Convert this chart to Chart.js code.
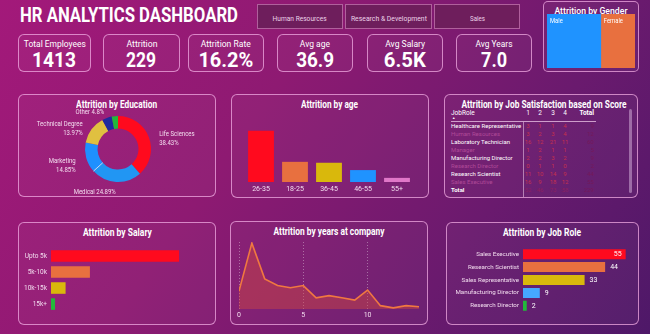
<!DOCTYPE html>
<html><head><meta charset="utf-8">
<script src="https://cdn.jsdelivr.net/npm/chart.js@4.4.1/dist/chart.umd.min.js"></script>
<style>
html,body{margin:0;padding:0;width:650px;height:334px;overflow:hidden}
body{position:relative;background:linear-gradient(125deg,#a3197a 0%,#8e1a72 38%,#6a1a6e 72%,#4e1868 100%);font-family:Roboto,"Liberation Sans",sans-serif;color:#fff}
.box{position:absolute;box-sizing:border-box;border:1px solid rgba(240,170,225,0.75);border-radius:6px;background:rgba(255,255,255,0.03)}
.line{position:absolute;left:0;right:0;text-align:center;white-space:nowrap}
.abs{position:absolute;white-space:nowrap}
.btn{position:absolute;box-sizing:border-box;top:4px;height:25px;background:#6e1e5c;border:1px solid #b0609c}
.chart{position:absolute}
</style></head>
<body>
<div id="root"></div>
<script>
// ---------- data ----------
const dashTitle = 'HR ANALYTICS DASHBOARD';
const deptButtons = ['Human Resources', 'Research & Development', 'Sales'];
const kpiLabels = ['Total Employees', 'Attrition', 'Attrition Rate', 'Avg age', 'Avg Salary', 'Avg Years'];
const kpiValues = ['1413', '229', '16.2%', '36.9', '6.5K', '7.0'];
const genderLabels = ['Male', 'Female'];
const genderValues = [140, 89];
const eduLabels = ['Life Sciences', 'Medical', 'Marketing', 'Technical Degree', 'Other', 'Human Resources'];
const eduPct = [38.43, 24.89, 14.85, 13.97, 4.8, 3.06];
const ageLabels = ['26-35', '18-25', '36-45', '46-55', '55+'];
const ageValues = [112, 44, 42, 26, 9];
const satRoles = ['Healthcare Representative', 'Human Resources', 'Laboratory Technician', 'Manager', 'Manufacturing Director', 'Research Director', 'Research Scientist', 'Sales Executive'];
const satScores = ['1', '2', '3', '4'];
const satValues = [[3,1,1,4],[3,2,3,4],[16,12,21,11],[1,2,1,1],[2,2,3,2],[0,1,1,0],[11,10,14,9],[16,9,18,12]];
const satTotals = [9, 12, 60, 5, 9, 2, 44, 55];
const satColumnTotals = [52, 46, 73, 58, 229];
const salaryLabels = ['Upto 5k', '5k-10k', '10k-15k', '15k+'];
const salaryValues = [158, 48, 18, 5];
const yearsAtCompany = [0,1,2,3,4,5,6,7,8,9,10,11,12,13,14];
const yearsAttrition = [16,59,27,21,19,21,10,12,10,8,17,3,1,3,2];
const roleLabels = ['Sales Executive', 'Research Scientist', 'Sales Representative', 'Manufacturing Director', 'Research Director'];
const roleValues = [55, 44, 33, 9, 2];
const panelTitles = ['Attrition by Education','Attrition by age','Attrition by Job Satisfaction based on Score','Attrition by Salary','Attrition by years at company','Attrition by Job Role'];
const genderTitle = 'Attrition by Gender';

// ---------- layout / styles ----------
const FONT = 'Roboto,"Liberation Sans",sans-serif';
const TXT = '#f3dcef';
const RED='#ff0a1e', ORANGE='#e8703f', YELLOW='#d9b80c', BLUE='#1f93ff', LBLUE='#45a8ff', GREEN='#22b83a', PINK='#e077c8', DBLUE='#1f2a9e';
Chart.defaults.font.family = FONT;
Chart.defaults.color = TXT;
Chart.defaults.animation = false;
Chart.defaults.maintainAspectRatio = false;
Chart.defaults.plugins.legend.display = false;
Chart.defaults.plugins.tooltip.enabled = false;

const root = document.getElementById('root');
function el(cls, css, text, parent){const d=document.createElement('div'); if(cls) d.className=cls; d.style.cssText=css||''; if(text!==undefined) d.textContent=text; (parent||root).appendChild(d); return d;}
function fit(parent, text, css, targetW, origin){const s=document.createElement('span'); s.textContent=text; s.style.cssText='display:inline-block;white-space:nowrap;'+(css||''); parent.appendChild(s);
  const w=s.getBoundingClientRect().width; if(targetW && w>0){s.style.transform='scaleX('+(targetW/w).toFixed(3)+')'; s.style.transformOrigin=origin||'center';} return s;}
function canvasIn(css){const d=el('chart',css); const c=document.createElement('canvas'); d.appendChild(c); return c;}
function sText(ctx, t, x, y, sx, align){ctx.save(); ctx.translate(x,y); ctx.scale(sx,1); ctx.textAlign=align; ctx.fillText(t,0,0); ctx.restore();}

// title
const tdiv=el('abs','left:20px;top:2px;line-height:26px;');
fit(tdiv, dashTitle, 'font-size:20px;font-weight:bold;', 218, 'left');
// buttons
const btnPos=[[257,86],[345,87],[434,86]], btnW=[54,76,15];
deptButtons.forEach((t,i)=>{const b=el('btn',`left:${btnPos[i][0]}px;width:${btnPos[i][1]}px;`); const l=el('line','top:0;line-height:22px;',undefined,b); fit(l,t,'font-size:7px;color:#ecd2e8;',btnW[i]);});
// KPI cards
const kpiPos=[[18,73],[103,77],[188,76],[277,76],[367,76],[456,76]];
const kpiLW=[62,31,50,30,40,37], kpiVW=[44,30,55,38,42,26];
kpiLabels.forEach((t,i)=>{const b=el('box',`left:${kpiPos[i][0]}px;top:34px;width:${kpiPos[i][1]}px;height:38px;`);
  fit(el('line','top:0px;line-height:13px;',undefined,b),t,'font-size:9.5px;',kpiLW[i]);
  fit(el('line','top:12px;line-height:26px;',undefined,b),kpiValues[i],'font-size:21px;font-weight:bold;',kpiVW[i]);});
// gender box
const gb=el('box','left:543px;top:1px;width:96px;height:71px;border-radius:5px;');
fit(el('line','top:0px;line-height:13px;',undefined,gb), genderTitle, 'font-size:9.5px;font-weight:500;', 73);
// panels
const panels=[[18,94,198,103],[231,94,198,104],[444,94,194,104],[18,222,198,103],[230,221,198,104],[446,222,193,103]];
const ptW=[81,57,165,69,111,78];
panels.forEach((p,i)=>{const b=el('box',`left:${p[0]}px;top:${p[1]}px;width:${p[2]}px;height:${p[3]}px;`);
  fit(el('line','top:1px;line-height:13px;',undefined,b),panelTitles[i],'font-size:10px;font-weight:bold;',ptW[i]);});

// ---------- gender (stacked bar as treemap) ----------
const genderLblPlugin={id:'genderLbl',afterDatasetsDraw(chart){const ctx=chart.ctx;ctx.save();ctx.font='6.5px '+FONT;ctx.fillStyle='#fff';ctx.textBaseline='top';
 chart.data.datasets.forEach((ds,i)=>{const bar=chart.getDatasetMeta(i).data[0];const left=Math.min(bar.x,bar.base);sText(ctx,ds.label,left+3,bar.y-bar.height/2+4,0.9,'left');});ctx.restore();}};
new Chart(canvasIn('left:547px;top:14px;width:88px;height:54px;'),{type:'bar',
 data:{labels:['Gender'],datasets:genderLabels.map((l,i)=>({label:l,data:[genderValues[i]],backgroundColor:[BLUE,ORANGE][i],borderWidth:0}))},
 options:{indexAxis:'y',layout:{padding:0},datasets:{bar:{barPercentage:1,categoryPercentage:1}},
  scales:{x:{display:false,stacked:true,min:0,max:genderValues.reduce((a,b)=>a+b,0)},y:{display:false,stacked:true}}},plugins:[genderLblPlugin]});

// ---------- education doughnut ----------
const eduLblPlugin={id:'eduLbl',afterDatasetsDraw(chart){const ctx=chart.ctx;const meta=chart.getDatasetMeta(0);ctx.save();ctx.font='7.5px '+FONT;ctx.fillStyle=TXT;ctx.textBaseline='middle';
 meta.data.forEach((arc,i)=>{if(eduPct[i]<4) return;const p=arc.getProps(['x','y','startAngle','endAngle','outerRadius'],true);
  const a=(p.startAngle+p.endAngle)/2;const single=Math.abs(Math.sin(a))>0.9;const r=p.outerRadius+(single?8:11);
  const x=p.x+Math.cos(a)*r,y=p.y+Math.sin(a)*r+(single?2:1);const al=Math.cos(a)>=0?'left':'right';const pct=eduPct[i]+'%';
  if(single){sText(ctx,eduLabels[i]+' '+pct,x,y,0.8,al);}else{sText(ctx,eduLabels[i],x,y,0.8,al);sText(ctx,pct,x,y+9,0.8,al);}});
 // thin separator between the two blue segments
 const m=meta.data[1].getProps(['x','y','endAngle','outerRadius','innerRadius'],true);
 ctx.strokeStyle='rgba(255,255,255,0.9)';ctx.lineWidth=0.8;ctx.beginPath();
 ctx.moveTo(m.x+Math.cos(m.endAngle)*m.innerRadius,m.y+Math.sin(m.endAngle)*m.innerRadius);ctx.lineTo(m.x+Math.cos(m.endAngle)*m.outerRadius,m.y+Math.sin(m.endAngle)*m.outerRadius);ctx.stroke();
 ctx.restore();}};
new Chart(canvasIn('left:18px;top:106px;width:198px;height:90px;'),{type:'doughnut',
 data:{labels:eduLabels,datasets:[{data:eduPct,backgroundColor:[RED,'#2196f3','#1e90ff','#e0c040',DBLUE,GREEN],borderWidth:0}]},
 options:{cutout:'62%',layout:{padding:{left:67,right:65,top:10,bottom:14}}},plugins:[eduLblPlugin]});

// ---------- age bars ----------
new Chart(canvasIn('left:231px;top:106px;width:198px;height:90px;'),{type:'bar',
 data:{labels:ageLabels,datasets:[{data:ageValues,backgroundColor:[RED,ORANGE,YELLOW,BLUE,PINK],borderWidth:0,barPercentage:0.76,categoryPercentage:1}]},
 options:{layout:{padding:{left:13,right:15,top:21,bottom:0}},
  scales:{y:{display:false,min:0,max:120},x:{grid:{display:false,drawTicks:false},border:{display:false},ticks:{font:{size:7},color:TXT,padding:3},afterFit(s){s.height=14;}}}}});

// ---------- job satisfaction table ----------
const tb=el('abs','left:0;top:0;');
function txt(x,y,s,css){return el('abs',`left:${x}px;top:${y-5}px;line-height:10px;font-size:6px;${css||''}`,s,tb);}
txt(451,113,'JobRole','font-size:6.5px;color:#fff;');
txt(452,118,'▲','font-size:3.5px;color:#fff;');
const colX=[528,540,553,565];
satScores.forEach((s,j)=>txt(colX[j]-3,113,s,'font-size:6.5px;color:#fff;width:6px;text-align:center;'));
txt(571,113,'Total','font-size:6.5px;font-weight:bold;color:#fff;width:23px;text-align:right;');
el('abs','left:451px;top:121px;width:145px;height:1px;background:rgba(230,190,225,0.8);',undefined,tb);
el('abs','left:523px;top:122px;width:1px;height:75px;background:rgba(230,190,225,0.6);',undefined,tb);
el('abs','left:629px;top:109px;width:3px;height:84px;border-radius:2px;background:rgba(230,200,235,0.45);',undefined,tb);
satRoles.forEach((r,i)=>{const y=126+i*8;const dim=i%2===1;
 txt(451,y,r,`color:${dim?'#b04a98':'#fff'};`);
 satValues[i].forEach((v,j)=>txt(colX[j]-6,y,String(v),'width:12px;text-align:center;color:#c4304e;'));
 txt(571,y,String(satTotals[i]),'width:23px;text-align:right;color:#74185a;');});
txt(451,190,'Total','font-weight:bold;color:#fff;');
satColumnTotals.forEach((v,j)=>{if(j<4) txt(colX[j]-6,190,String(v),'width:12px;text-align:center;color:#8a2060;'); else txt(571,190,String(v),'width:23px;text-align:right;color:#74185a;');});

// ---------- salary bars ----------
new Chart(canvasIn('left:18px;top:240px;width:198px;height:80px;'),{type:'bar',
 data:{labels:salaryLabels,datasets:[{data:salaryValues,backgroundColor:[RED,ORANGE,YELLOW,GREEN],borderWidth:0,barPercentage:0.72,categoryPercentage:1}]},
 options:{indexAxis:'y',layout:{padding:{left:0,right:11,top:4.5,bottom:3.5}},
  scales:{x:{display:false,min:0,max:190},y:{grid:{display:false,drawTicks:false},border:{display:false},ticks:{font:{size:6.5},color:TXT,padding:4},afterFit(s){s.width=33;}}}}});

// ---------- years at company ----------
new Chart(canvasIn('left:231px;top:236px;width:197px;height:85px;'),{type:'line',
 data:{datasets:[{data:yearsAtCompany.map((x,i)=>({x:x,y:yearsAttrition[i]})),borderColor:'#f07840',borderWidth:1.6,pointRadius:0,tension:0,fill:'origin',backgroundColor:'rgba(215,75,60,0.42)'}]},
 options:{layout:{padding:{left:8,right:9,top:6,bottom:0}},
  scales:{y:{display:false,min:0,max:60},
   x:{type:'linear',min:0,max:14,ticks:{stepSize:5,includeBounds:false,font:{size:7},color:TXT,padding:2},grid:{display:true,drawTicks:false,color:'rgba(255,255,255,0.35)'},border:{display:false,dash:[1,2]},afterFit(s){s.height=12;}}}}});

// ---------- job role bars ----------
const roleLblPlugin={id:'roleLbl',afterDatasetsDraw(chart){const ctx=chart.ctx;const meta=chart.getDatasetMeta(0);const mx=Math.max(...roleValues);ctx.save();ctx.font='7px '+FONT;ctx.fillStyle='#fff';ctx.textBaseline='middle';
 meta.data.forEach((bar,i)=>{const v=roleValues[i];if(v===mx){sText(ctx,String(v),bar.x-4,bar.y,1,'right');}else{sText(ctx,String(v),bar.x+5,bar.y,1,'left');}});ctx.restore();}};
new Chart(canvasIn('left:446px;top:240px;width:193px;height:80px;'),{type:'bar',
 data:{labels:roleLabels,datasets:[{data:roleValues,backgroundColor:[RED,ORANGE,YELLOW,LBLUE,GREEN],borderWidth:0,barPercentage:0.78,categoryPercentage:1}]},
 options:{indexAxis:'y',layout:{padding:{left:0,right:4,top:4.4,bottom:2.4}},
  scales:{x:{display:false,min:0,max:60},y:{grid:{display:false,drawTicks:false},border:{display:false},ticks:{font:{size:6.2},color:TXT,padding:4},afterFit(s){s.width=77;}}}},plugins:[roleLblPlugin]});
</script>
</body></html>
